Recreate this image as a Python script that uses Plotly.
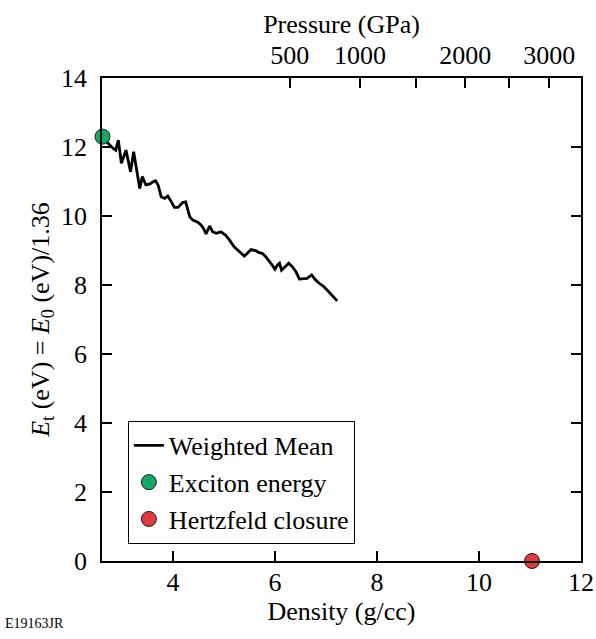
import plotly.graph_objects as go

# Weighted mean curve (density g/cc, energy eV)
density = [2.70, 2.77, 2.83, 2.88, 2.93, 2.99, 3.08, 3.17, 3.23, 3.35, 3.40, 3.47, 3.55, 3.61,
           3.66, 3.71, 3.77, 3.84, 3.90, 3.97, 4.03, 4.10, 4.19, 4.25, 4.33, 4.39, 4.49, 4.55,
           4.60, 4.65, 4.72, 4.78, 4.85, 4.94, 5.03, 5.11, 5.20, 5.30, 5.40, 5.46, 5.53, 5.63,
           5.69, 5.75, 5.82, 5.92, 6.00, 6.05, 6.09, 6.13, 6.21, 6.27, 6.34, 6.41, 6.48, 6.57,
           6.63, 6.72, 6.80, 6.87, 6.96, 7.05, 7.15, 7.22]
energy = [12.15, 12.03, 11.96, 11.91, 12.20, 11.53, 11.91, 11.28, 11.86, 10.80, 11.14, 10.90,
          10.93, 10.99, 11.02, 10.90, 10.56, 10.51, 10.58, 10.41, 10.25, 10.25, 10.39, 10.41,
          9.98, 9.88, 9.82, 9.74, 9.64, 9.48, 9.71, 9.54, 9.50, 9.54, 9.45, 9.30, 9.11, 8.97,
          8.84, 8.92, 9.03, 8.99, 8.94, 8.92, 8.82, 8.63, 8.46, 8.58, 8.63, 8.43, 8.55, 8.63,
          8.53, 8.39, 8.17, 8.18, 8.19, 8.29, 8.14, 8.05, 7.95, 7.81, 7.66, 7.54]

exciton_density = [2.62]
exciton_energy = [12.3]
hertzfeld_density = [11.04]
hertzfeld_energy = [0.0]

# Top pressure axis: labelled ticks and unlabelled ticks (at their density positions)
pressure_labels = ["500", "1000", "2000", "3000"]
pressure_label_density = [6.29, 7.67, 9.73, 11.38]
pressure_minor_density = [8.76, 10.58]  # 1500, 2500 GPa

x_ticks = [4, 6, 8, 10, 12]
y_ticks = [0, 2, 4, 6, 8, 10, 12, 14]

FONT = "Liberation Serif, Times New Roman, serif"
FS = 26

fig = go.Figure()
fig.add_trace(go.Scatter(x=density, y=energy, mode="lines", name="Weighted Mean",
                         line=dict(color="black", width=2.8)))
fig.add_trace(go.Scatter(x=exciton_density, y=exciton_energy, mode="markers", name="Exciton energy",
                         marker=dict(color="#13a863", size=15, line=dict(color="#1a1a1a", width=1)),
                         cliponaxis=False))
fig.add_trace(go.Scatter(x=hertzfeld_density, y=hertzfeld_energy, mode="markers", name="Hertzfeld closure",
                         marker=dict(color="#e03a3e", size=15, line=dict(color="#1a1a1a", width=1)),
                         cliponaxis=False))
# invisible traces to activate the top axes
for ax in ("x2", "x3"):
    fig.add_trace(go.Scatter(x=[pressure_label_density[0]], y=[0], xaxis=ax, mode="markers",
                             marker=dict(opacity=0), showlegend=False, hoverinfo="skip"))

axis_common = dict(showgrid=False, zeroline=False, showline=True, linecolor="black", linewidth=1.5,
                   ticks="inside", ticklen=10, tickwidth=1.5, tickcolor="black", automargin=False,
                   tickfont=dict(family=FONT, size=FS, color="black"))

fig.update_layout(
    width=596, height=639,
    margin=dict(l=102, r=15, t=78, b=78),
    paper_bgcolor="white", plot_bgcolor="white",
    font=dict(family=FONT, size=FS, color="black"),
    xaxis=dict(range=[2.61, 12], tickvals=x_ticks, mirror=True, ticklabelstandoff=-3,
               title=dict(text="Density (g/cc)", font=dict(family=FONT, size=FS), standoff=2),
               **axis_common),
    xaxis2=dict(range=[2.61, 12], overlaying="x", side="top", tickvals=pressure_label_density,
                ticktext=pressure_labels, anchor="y", ticklabelstandoff=2,
                title=dict(text="Pressure (GPa)", font=dict(family=FONT, size=FS), standoff=0),
                **axis_common),
    xaxis3=dict(range=[2.61, 12], overlaying="x", side="top", tickvals=pressure_minor_density,
                anchor="y", showticklabels=False, showgrid=False, zeroline=False, showline=False,
                ticks="inside", ticklen=10, tickwidth=1.5, tickcolor="black", automargin=False),
    yaxis=dict(range=[0, 14], tickvals=y_ticks, mirror="ticks", ticklabelstandoff=8,
               title=dict(text="<i>E</i><sub>t</sub> (eV) = <i>E</i><sub>0</sub> (eV)/1.36",
                          font=dict(family=FONT, size=FS), standoff=4),
               **axis_common),
    legend=dict(x=0.054, y=0.29, xanchor="left", yanchor="top",
                bordercolor="black", borderwidth=1, bgcolor="white",
                font=dict(family=FONT, size=FS, color="black"), tracegroupgap=0,
                itemwidth=30),
    showlegend=True,
)

fig.add_annotation(text="E19163JR", xref="paper", yref="paper", x=-0.207, y=-0.13,
                   xanchor="left", yanchor="middle", showarrow=False,
                   font=dict(family=FONT, size=14, color="black"))

fig.write_html("out.html", config={"displayModeBar": False},
               post_script="document.body.style.margin='0';")
